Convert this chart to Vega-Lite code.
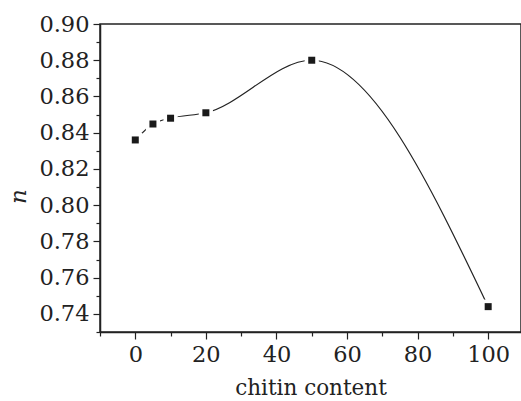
{
  "$schema": "https://vega.github.io/schema/vega-lite/v6.json",
  "width": 421,
  "height": 308,
  "autosize": {"type": "none"},
  "padding": {"left": 100, "top": 24, "right": 0, "bottom": 69},
  "background": "white",
  "config": {
    "view": {"stroke": "#222", "strokeWidth": 1.5},
    "font": "DejaVu Serif",
    "axis": {
      "grid": false,
      "domainColor": "#222",
      "domainWidth": 1.5,
      "tickColor": "#222",
      "tickWidth": 1.2,
      "labelFont": "DejaVu Serif",
      "titleFont": "DejaVu Serif",
      "labelFontSize": 22.5,
      "labelColor": "#222",
      "titleFontSize": 21.5,
      "titleFontWeight": "normal",
      "titleColor": "#222",
      "labelFlush": false,
      "labelOverlap": false
    }
  },
  "data": {
    "values": [
      {"chitin": 0, "n": 0.836},
      {"chitin": 5, "n": 0.8448},
      {"chitin": 10, "n": 0.848},
      {"chitin": 20, "n": 0.851},
      {"chitin": 50, "n": 0.880},
      {"chitin": 100, "n": 0.744}
    ]
  },
  "encoding": {
    "x": {
      "field": "chitin",
      "type": "quantitative",
      "scale": {"domain": [-10, 109.3], "nice": false, "zero": false},
      "axis": {
        "title": "chitin content",
        "values": [-10, 0, 10, 20, 30, 40, 50, 60, 70, 80, 90, 100],
        "labelExpr": "datum.value % 20 === 0 ? datum.value : ''",
        "tickSize": {"condition": {"test": "datum.value % 20 === 0", "value": 7}, "value": 4},
        "labelPadding": 4,
        "titlePadding": 12
      }
    },
    "y": {
      "field": "n",
      "type": "quantitative",
      "scale": {"domain": [0.73, 0.9], "nice": false, "zero": false},
      "axis": {
        "title": "n",
        "titleFontSize": 23,
        "titleFontStyle": "italic",
        "titleAngle": -90,
        "titleX": -82,
        "titleY": 172,
        "titleBaseline": "middle",
        "titleAlign": "center",
        "values": [0.73, 0.74, 0.75, 0.76, 0.77, 0.78, 0.79, 0.8, 0.81, 0.82, 0.83, 0.84, 0.85, 0.86, 0.87, 0.88, 0.89, 0.9],
        "labelExpr": "round(datum.value * 100) % 2 === 0 ? format(datum.value, '.2f') : ''",
        "tickSize": {"condition": {"test": "round(datum.value * 100) % 2 === 0", "value": 7}, "value": 4},
        "labelPadding": 4
      }
    }
  },
  "layer": [
    {
      "mark": {"type": "line", "interpolate": "monotone", "color": "#222", "strokeWidth": 1.2}
    },
    {
      "mark": {"type": "point", "shape": "square", "filled": true, "color": "white", "size": 200, "opacity": 1}
    },
    {
      "mark": {"type": "point", "shape": "square", "filled": true, "color": "#1a1a1a", "size": 49, "opacity": 1}
    }
  ]
}
